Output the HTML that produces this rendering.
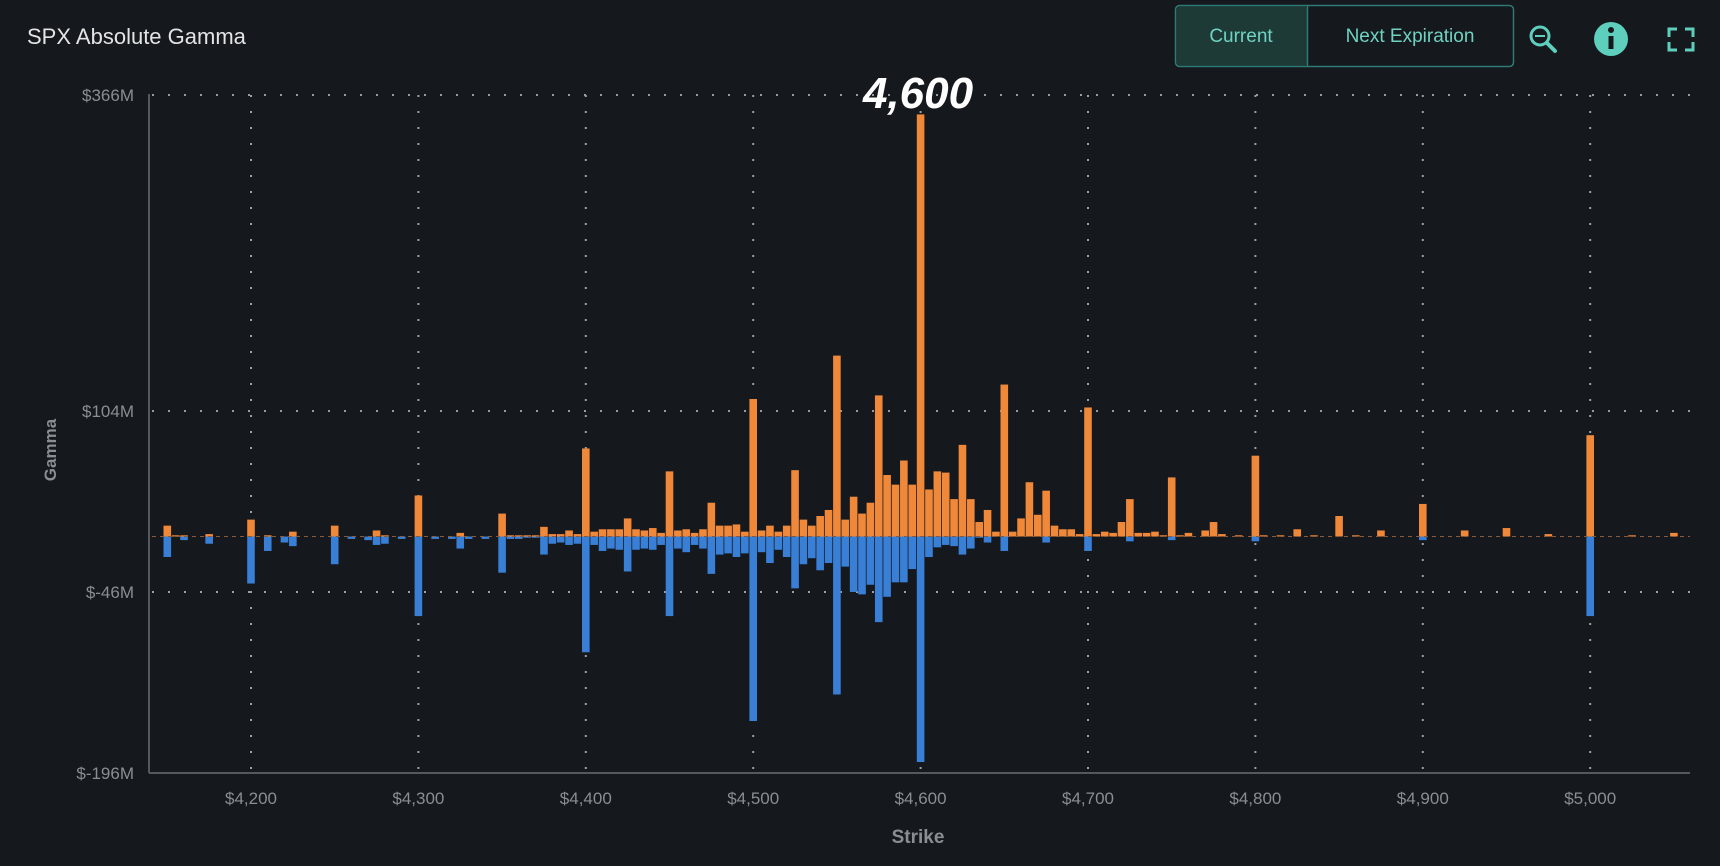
<!DOCTYPE html>
<html><head><meta charset="utf-8"><style>
html,body{margin:0;padding:0;background:#15181c;width:1720px;height:866px;overflow:hidden;font-family:"Liberation Sans",sans-serif}
</style></head><body>
<svg id="s" width="1720" height="866" xmlns="http://www.w3.org/2000/svg" style="position:absolute;left:0;top:0">
<rect width="1720" height="866" fill="#15181c"/>
<text x="27" y="44" fill="#e2e4e6" font-size="22" font-family="Liberation Sans, sans-serif">SPX Absolute Gamma</text>
<rect x="1175.5" y="5.5" width="338" height="61" rx="4" fill="#15181c" stroke="#2f7a72" stroke-width="1.5"/>
<rect x="1176.5" y="6.5" width="131" height="59" rx="3" fill="#1e3a37"/>
<line x1="1307.5" y1="6" x2="1307.5" y2="66" stroke="#2f7a72" stroke-width="1.5"/>
<text x="1241" y="42" fill="#6fd3c2" font-size="19" text-anchor="middle">Current</text>
<text x="1410" y="42" fill="#6fd3c2" font-size="19" text-anchor="middle">Next Expiration</text>
<circle cx="1540" cy="36" r="9" fill="none" stroke="#5fcfbd" stroke-width="3"/>
<line x1="1547" y1="43" x2="1555" y2="51" stroke="#5fcfbd" stroke-width="4" stroke-linecap="round"/>
<line x1="1535" y1="36" x2="1545" y2="36" stroke="#5fcfbd" stroke-width="2"/>
<circle cx="1611" cy="39" r="17" fill="#5fcfbd"/>
<rect x="1608.5" y="36" width="5" height="13" fill="#15181c"/>
<circle cx="1611" cy="30" r="3" fill="#15181c"/>
<path d="M1669 37v-8h8M1685 29h8v8M1693 42v8h-8M1677 50h-8v-8" fill="none" stroke="#5fcfbd" stroke-width="3"/>
<g id="grid" stroke="#9a9ea3" stroke-width="2" stroke-dasharray="2,14"></g>
<g id="bars"></g>
<line x1="149" y1="94" x2="149" y2="773" stroke="#55595e" stroke-width="2"/>
<line x1="149" y1="773" x2="1690" y2="773" stroke="#55595e" stroke-width="2"/>
<g fill="#8a8e93" font-size="17" text-anchor="end">
<text x="134" y="101">$366M</text>
<text x="134" y="417">$104M</text>
<text x="134" y="598">$-46M</text>
<text x="134" y="779">$-196M</text>
</g>
<g id="xl" fill="#8a8e93" font-size="17" text-anchor="middle"></g>
<text x="918" y="843" fill="#8a8e93" font-size="19" font-weight="bold" text-anchor="middle">Strike</text>
<text transform="translate(56,450) rotate(-90)" fill="#8a8e93" font-size="17" font-weight="bold" text-anchor="middle">Gamma</text>
<text x="918" y="108" fill="#ffffff" font-size="44" font-weight="bold" font-style="italic" text-anchor="middle">4,600</text>
</svg>
<script>
var ns="http://www.w3.org/2000/svg";
function X(s){return 251+(s-4200)*1.674;}
function Y(v){return 536.5-v*1.206;}
function el(p,t,a){var e=document.createElementNS(ns,t);for(var k in a)e.setAttribute(k,a[k]);p.appendChild(e);return e;}
var g=document.getElementById('grid'),b=document.getElementById('bars'),xl=document.getElementById('xl');
[95,411,592].forEach(function(y){el(g,'line',{x1:152,y1:y,x2:1690,y2:y});});
for(var s=4200;s<=5000;s+=100){var x=X(s);el(g,'line',{x1:x,y1:95,x2:x,y2:773});
 el(xl,'text',{x:x,y:804}).textContent='$'+(s/1000|0)+','+String(s%1000).padStart(3,'0');}
var P={4150:9,4155:1,4160:1,4175:2,4200:14,4210:1,4225:4,4250:9,4275:5,4280:1,4300:34,4325:3,4350:19,4355:1,4360:1,4365:1,4370:1,4375:8,4380:2,4385:2,4390:5,4395:2,4400:73,4405:4,4410:6,4415:6,4420:6,4425:15,4430:6,4435:5,4440:7,4445:3,4450:54,4455:5,4460:6,4465:3,4470:6,4475:28,4480:9,4485:9,4490:10,4495:4,4500:114,4505:5,4510:9,4515:4,4520:9,4525:55,4530:14,4535:9,4540:17,4545:22,4550:150,4555:14,4560:33,4565:19,4570:28,4575:117,4580:51,4585:43,4590:63,4595:43,4600:350,4605:39,4610:54,4615:53,4620:31,4625:76,4630:31,4635:12,4640:22,4645:4,4650:126,4655:4,4660:15,4665:45,4670:18,4675:38,4680:9,4685:6,4690:6,4695:2,4700:107,4705:2,4710:4,4715:3,4720:12,4725:31,4730:3,4735:3,4740:4,4745:1,4750:49,4755:1,4760:3,4770:5,4775:12,4780:2,4790:1,4800:67,4805:1,4815:1,4825:6,4835:1,4850:17,4860:1,4875:5,4900:27,4925:5,4950:7,4975:2,5000:84,5025:1,5050:3};
var N={4150:-17,4160:-3,4175:-6,4200:-39,4210:-12,4220:-5,4225:-8,4250:-23,4260:-2,4270:-3,4275:-7,4280:-6,4290:-2,4300:-66,4310:-2,4320:-2,4325:-10,4330:-2,4340:-2,4350:-30,4355:-2,4360:-2,4365:-1,4370:-1,4375:-15,4380:-6,4385:-5,4390:-7,4395:-6,4400:-96,4405:-7,4410:-12,4415:-10,4420:-11,4425:-29,4430:-11,4435:-10,4440:-11,4445:-7,4450:-66,4455:-10,4460:-13,4465:-7,4470:-10,4475:-31,4480:-15,4485:-14,4490:-17,4495:-14,4500:-153,4505:-13,4510:-22,4515:-11,4520:-17,4525:-43,4530:-23,4535:-18,4540:-28,4545:-22,4550:-131,4555:-25,4560:-46,4565:-48,4570:-40,4575:-71,4580:-50,4585:-38,4590:-38,4595:-27,4600:-187,4605:-17,4610:-9,4615:-7,4620:-8,4625:-15,4630:-10,4635:-1,4640:-5,4650:-12,4675:-5,4700:-12,4725:-4,4750:-3,4800:-4,4900:-3,5000:-66};
function bar(s,v,c){var x=X(s)-3.8,y0=Y(0),y=Y(v);el(b,'rect',{x:x,y:Math.min(y,y0),width:7.6,height:Math.max(Math.abs(y-y0),1),fill:c});}
for(var k in P)bar(+k,P[k],'#f0883a');
for(var k in N)bar(+k,N[k],'#3a7fd6');
el(b,'line',{x1:152,y1:Y(0),x2:1690,y2:Y(0),stroke:'#8a5a3a','stroke-width':1,'stroke-dasharray':'4,4'});
</script>
</body></html>
